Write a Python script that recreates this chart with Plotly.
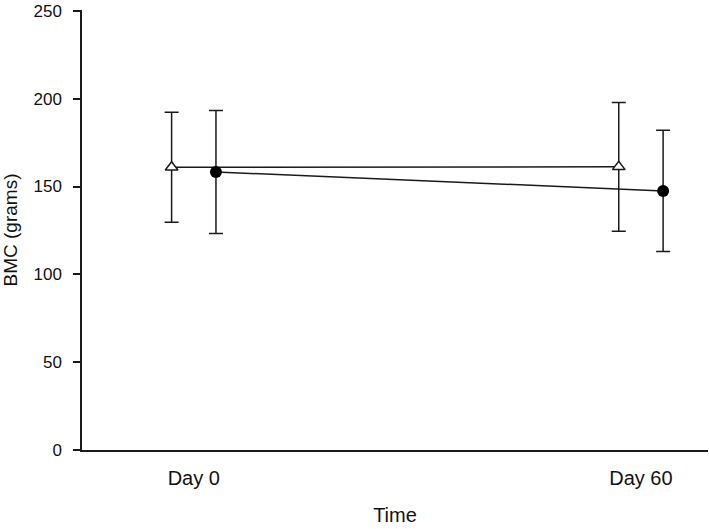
import plotly.graph_objects as go

categories = ["Day 0", "Day 60"]
cat_pos = [0, 1]
offset = 0.0496

tri_mean = [161.0, 161.2]
tri_err = [31.3, 36.6]
circ_mean = [158.3, 147.5]
circ_err = [35.0, 34.5]

y_ticks = [0, 50, 100, 150, 200, 250]

font = "Liberation Sans, Arial, sans-serif"
ink = "#1a1a1a"

fig = go.Figure()
fig.add_trace(go.Scatter(
    x=[p - offset for p in cat_pos], y=tri_mean,
    mode="lines+markers",
    line=dict(color=ink, width=1.5),
    marker=dict(symbol="triangle-up", size=11, color="white",
                line=dict(color=ink, width=1.5)),
    error_y=dict(type="data", array=tri_err, visible=True,
                 color=ink, thickness=1.5, width=7),
    showlegend=False, hoverinfo="skip",
))
fig.add_trace(go.Scatter(
    x=[p + offset for p in cat_pos], y=circ_mean,
    mode="lines+markers",
    line=dict(color=ink, width=1.5),
    marker=dict(symbol="circle", size=12, color="black",
                line=dict(color="black", width=0)),
    error_y=dict(type="data", array=circ_err, visible=True,
                 color=ink, thickness=1.5, width=7),
    showlegend=False, hoverinfo="skip",
))

fig.update_layout(
    width=709, height=529,
    margin=dict(l=82, r=1, t=10, b=79),
    paper_bgcolor="white", plot_bgcolor="white",
    font=dict(family=font, color="#111"),
    xaxis=dict(
        range=[-0.25, 1.15], tickvals=cat_pos, ticktext=categories,
        showgrid=False, zeroline=False, showline=True,
        linecolor=ink, linewidth=1.5, ticks="",
        tickfont=dict(size=20), ticklabelstandoff=9,
        title=dict(text="Time", font=dict(size=20), standoff=20),
        automargin=False,
    ),
    yaxis=dict(
        range=[0, 250.5], tickvals=y_ticks,
        showgrid=False, zeroline=False, showline=True,
        linecolor=ink, linewidth=1.5, ticks="outside", ticklen=7,
        tickcolor=ink, tickwidth=1.5,
        tickfont=dict(size=17), ticklabelstandoff=8,
        title=dict(text="BMC (grams)", font=dict(size=19), standoff=12),
        automargin=False,
    ),
)

fig.write_html("out.html", config={"displayModeBar": False},
               post_script="document.body.style.margin='0';")
